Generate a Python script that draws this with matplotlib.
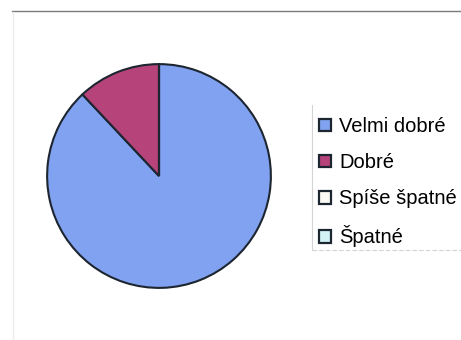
import matplotlib
matplotlib.use("Agg")
import matplotlib.pyplot as plt
from matplotlib.patches import Rectangle
from matplotlib.lines import Line2D

labels = ["Velmi dobré", "Dobré", "Spíše špatné", "Špatné"]
shares = [88, 12, 0, 0]
colors = ["#80a2f0", "#b6437a", "#fbfbf4", "#d2f2f4"]

plt.rcParams['font.family'] = ['Liberation Sans', 'DejaVu Sans']

W, H = 461, 340
fig = plt.figure(figsize=(W / 100, H / 100), dpi=100)

# pie area, square in pixels
ax = fig.add_axes([46 / W, 1 - 289 / H, 226 / W, 226 / H])
ax.pie(shares, colors=colors, startangle=90, counterclock=False,
       wedgeprops=dict(edgecolor="#1c2530", linewidth=1.5))
ax.set_xlim(-1.01, 1.01)
ax.set_ylim(-1.01, 1.01)
ax.set_aspect("equal")

# chart area border (top and left only)
fig.add_artist(Line2D([12 / W, 1], [1 - 11 / H, 1 - 11 / H], color="#7a7a7a", lw=1.0))
fig.add_artist(Line2D([13 / W, 13 / W], [1 - 12 / H, 0], color="#ececec", lw=1.0))

# legend frame edges
fig.add_artist(Line2D([312 / W, 312 / W], [1 - 105 / H, 1 - 250 / H], color="#d4d4d4", lw=0.8))
fig.add_artist(Line2D([312 / W, 1], [1 - 250 / H, 1 - 250 / H], color="#d4d4d4", lw=0.8, ls=(0, (4, 2))))

handles = [Rectangle((0, 0), 1, 1, facecolor=c, edgecolor="#1c2530", lw=1.6) for c in colors]
fig.legend(handles, labels, loc="upper left", bbox_to_anchor=(319 / W, 1 - 117 / H),
           frameon=False, fontsize=14.5, handlelength=0.6, handleheight=0.6,
           handletextpad=0.4, labelspacing=0.85, borderaxespad=0, borderpad=0)

fig.savefig("out.png", dpi=100)
